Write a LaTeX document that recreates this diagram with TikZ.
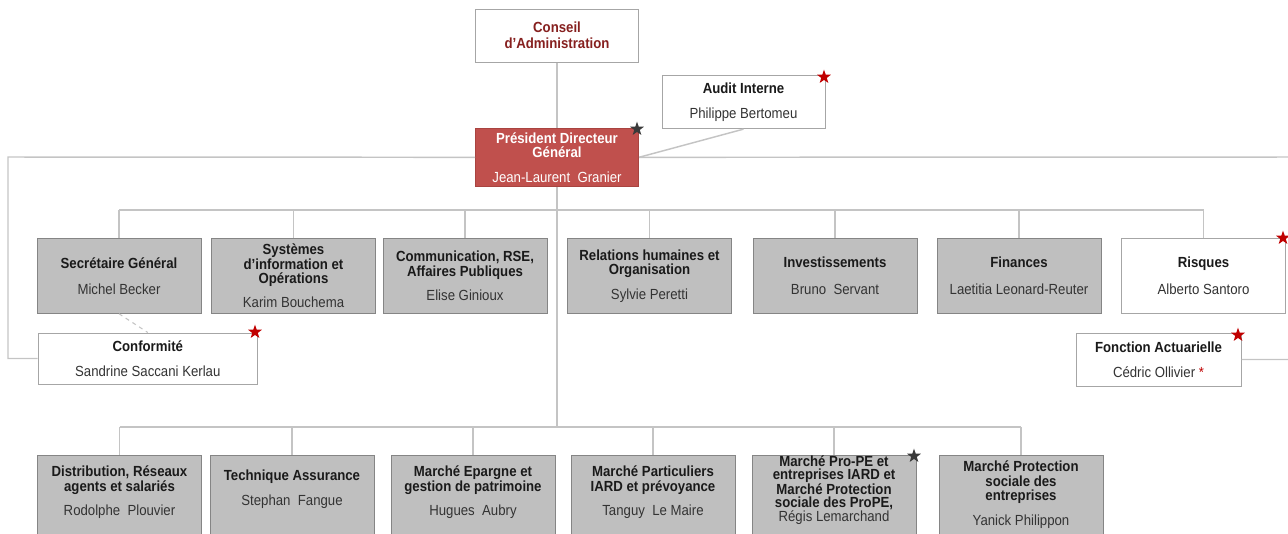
\documentclass[tikz,border=0pt]{standalone}
\usepackage{fontspec}
\setmainfont{Liberation Sans}[FakeStretch=0.9]
\usetikzlibrary{shapes.geometric,calc}
\definecolor{boxgray}{HTML}{BFBFBF}
\definecolor{boxedge}{HTML}{858585}
\definecolor{whiteedge}{HTML}{A6A6A6}
\definecolor{linegray}{HTML}{C4C4C4}
\definecolor{pdgred}{HTML}{C0504D}
\definecolor{pdgedge}{HTML}{A94440}
\definecolor{caRed}{HTML}{86201F}
\definecolor{starRed}{HTML}{C00000}
\definecolor{starDark}{HTML}{3A3A3A}
\definecolor{titlecol}{HTML}{1A1A1A}
\definecolor{namecol}{HTML}{333333}
\newcommand\nm[1]{\textmd{\textcolor{namecol}{#1}}}
\begin{document}
\begin{tikzpicture}[x=0.75pt,y=-0.75pt,
  base/.style={align=center, inner sep=0pt, font=\fontsize{11pt}{10.9pt}\selectfont\bfseries, text=titlecol, line width=0.75pt},
  graybox/.style={base, draw=boxedge, fill=boxgray, minimum width=123pt, minimum height=55.9pt},
  whitebox/.style={base, draw=whiteedge, fill=white},
  conn/.style={draw=linegray, line width=1.1pt},
  redstar/.style={star, star points=5, star point ratio=2.5, fill=starRed, draw=none, inner sep=0pt, minimum size=11pt},
  darkstar/.style={redstar, fill=starDark},
  rtwobox/.style={draw=boxedge, fill=boxgray, minimum width=123pt, minimum height=78.75pt, inner sep=0pt, line width=0.75pt},
  rtwotext/.style={base}
]
\useasboundingbox (0,0) rectangle (1288,533);
\clip (0,0) rectangle (1288,533);

% top
\node[whitebox, minimum width=122.25pt, minimum height=39.75pt, text=caRed, font=\fontsize{11pt}{12pt}\selectfont\bfseries] (ca) at (557,35.5) {Conseil\\d’Administration};
\node[base, draw=pdgedge, fill=pdgred, text=white, minimum width=122.25pt, minimum height=43.9pt] (pdg) at (557,157.3) {Président Directeur\\Général\\[7.5pt]\textmd{Jean-Laurent~~Granier}};
\node[whitebox, minimum width=122.25pt, minimum height=39.5pt] (audit) at (743.5,102.3) {Audit Interne\\[8pt]\nm{Philippe Bertomeu}};

% row 1
\node[graybox] (sg) at (119,276) {Secrétaire Général\\[9pt]\nm{Michel Becker}};
\node[graybox] (si) at (293.5,276) {Systèmes\\d’information et\\Opérations\\[7pt]\nm{Karim Bouchema}};
\node[graybox] (com) at (465,276) {Communication, RSE,\\Affaires Publiques\\[7.5pt]\nm{Elise Ginioux}};
\node[graybox] (rh) at (649.5,276) {Relations humaines et\\Organisation\\[7.5pt]\nm{Sylvie Peretti}};
\node[graybox] (inv) at (835,276) {Investissements\\[9pt]\nm{Bruno~~Servant}};
\node[graybox] (fin) at (1019,276) {Finances\\[9pt]\nm{Laetitia Leonard-Reuter}};
\node[whitebox, minimum width=123pt, minimum height=55.9pt] (risk) at (1203.5,276) {Risques\\[9pt]\nm{Alberto Santoro}};

\node[whitebox, minimum width=164.7pt, minimum height=38.25pt] (conf) at (147.8,358.5) {Conformité\\[8pt]\nm{Sandrine Saccani Kerlau}};
\node[whitebox, minimum width=123.75pt, minimum height=39.75pt] (fa) at (1158.5,359.5) {Fonction Actuarielle\\[8pt]\nm{Cédric Ollivier \textcolor{starRed}{*}}};

% row 2
\node[rtwobox] (d1) at (119.5,507.5) {};
\node[rtwobox] (d2) at (292,507.5) {};
\node[rtwobox] (d3) at (473,507.5) {};
\node[rtwobox] (d4) at (653,507.5) {};
\node[rtwobox] (d5) at (834,507.5) {};
\node[rtwobox] (d6) at (1021,507.5) {};
\node[rtwotext] (t1) at ($(d1.north)+(0,38)$) {Distribution, Réseaux\\agents et salariés\\[7.5pt]\nm{Rodolphe~~Plouvier}};
\node[rtwotext] (t2) at ($(d2.north)+(0,35)$) {Technique Assurance\\[8pt]\nm{Stephan~~Fangue}};
\node[rtwotext] (t3) at ($(d3.north)+(0,38)$) {Marché Epargne et\\gestion de patrimoine\\[7.5pt]\nm{Hugues~~Aubry}};
\node[rtwotext] (t4) at ($(d4.north)+(0,38)$) {Marché Particuliers\\IARD et prévoyance\\[7.5pt]\nm{Tanguy~~Le Maire}};
\node[rtwotext, font=\fontsize{11pt}{9.5pt}\selectfont\bfseries] (t5) at ($(d5.north)+(0,36)$) {Marché Pro-PE et\\entreprises IARD et\\Marché Protection\\sociale des ProPE,\\\nm{Régis Lemarchand}};
\node[rtwotext] (t6) at ($(d6.north)+(0,40)$) {Marché Protection\\sociale des\\entreprises\\[7.5pt]\nm{Yanick Philippon}};

% connectors
\coordinate (b1) at (557,210);
\coordinate (b2) at (557,427);
\coordinate (lc) at (8,157);
\coordinate (rc) at (1300,157);
\draw[conn] (ca.south) -- (pdg.north);
\draw[conn] (pdg.south) -- (b2);
\draw[conn] (sg.north |- b1) -- (risk.north |- b1);
\foreach \n in {sg,si,com,rh,inv,fin,risk} \draw[conn] (\n.north |- b1) -- (\n.north);
\draw[conn] (d1.north |- b2) -- (d6.north |- b2);
\foreach \n in {d1,d2,d3,d4,d5,d6} \draw[conn] (\n.north |- b2) -- (\n.north);
\draw[conn] (pdg.west) -- (lc) |- (conf.west);
\draw[conn] (pdg.east) -- (rc) |- (fa.east);
\draw[conn] (pdg.east) -- (audit.south);
\draw[conn, dashed, line width=0.8pt] (sg.south) -- (conf.north);

% stars
\node[darkstar] (st1) at (637,129) {};
\node[redstar] (st2) at (824,77) {};
\node[redstar] (st3) at (255,332) {};
\node[redstar] (st4) at (1283,238) {};
\node[redstar] (st5) at (1238,335) {};
\node[darkstar] (st6) at (914,456) {};
\end{tikzpicture}
\end{document}
